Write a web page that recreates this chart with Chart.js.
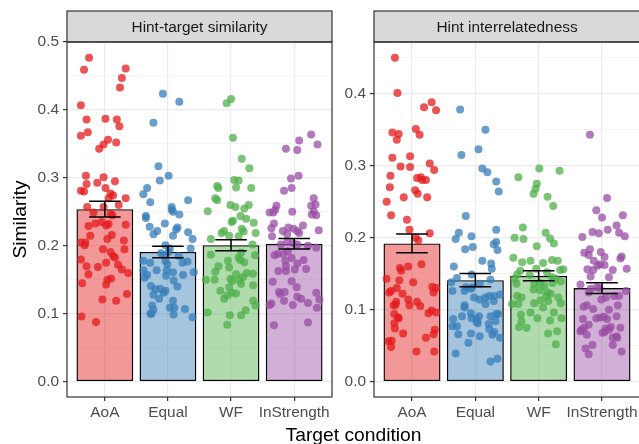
<!DOCTYPE html>
<html>
<head>
<meta charset="utf-8">
<title>Similarity by target condition</title>
<script src="https://cdn.jsdelivr.net/npm/chart.js@4.4.1/dist/chart.umd.min.js"></script>
<style>
    html, body { margin: 0; padding: 0; background: #ffffff; width: 639px; height: 444px; overflow: hidden; }
    canvas.panel { position: absolute; left: 0; top: 0; }
</style>
</head>
<body>
<canvas id="leftPanel" class="panel" width="639" height="460"></canvas>
<canvas id="rightPanel" class="panel" width="660" height="460"></canvas>
<script>
// Categories and facet titles
const categories = ['AoA', 'Equal', 'WF', 'InStrength'];
const panelTitles = ['Hint-target similarity', 'Hint interrelatedness'];
const xTitle = 'Target condition';
const yTitle = 'Similarity';
const palette = ['#E41A1C', '#377EB8', '#4DAF4A', '#984EA3'];

// Tick values
const simMajorTicks = [0, 0.1, 0.2, 0.3, 0.4, 0.5];
const simMinorTicks = [0.05, 0.15, 0.25, 0.35, 0.45];
const relMajorTicks = [0, 0.1, 0.2, 0.3, 0.4];
const relMinorTicks = [0.05, 0.15, 0.25, 0.35, 0.45];

// Bar means and standard errors
const simMeans = [0.254, 0.191, 0.201, 0.203];
const simSE = [0.0115, 0.0084, 0.0081, 0.0078];
const relMeans = [0.192, 0.141, 0.147, 0.130];
const relSE = [0.0130, 0.0093, 0.0069, 0.0074];

// Hint-target similarity: item values and horizontal jitter
const simAoA = [0.477,0.459,0.461,0.447,0.433,0.407,0.386,0.387,0.386,0.376,0.362,0.367,0.356,0.349,0.343,0.352,0.303,0.301,0.291,0.293,0.295,0.281,0.280,0.285,0.277,0.274,0.270,0.270,0.260,0.257,0.257,0.249,0.247,0.245,0.229,0.233,0.235,0.230,0.232,0.231,0.215,0.216,0.210,0.205,0.201,0.205,0.208,0.195,0.191,0.195,0.185,0.183,0.180,0.175,0.170,0.169,0.172,0.165,0.160,0.158,0.152,0.150,0.143,0.145,0.129,0.121,0.119,0.096,0.088];
const simAoAJitter = [-0.25,-0.33,0.33,0.27,0.24,-0.38,-0.29,0.01,0.19,0.23,-0.38,-0.27,0.05,-0.02,-0.09,0.18,-0.30,-0.02,-0.29,-0.12,0.16,-0.38,-0.33,0.01,0.09,0.13,0.33,0.06,0.22,-0.28,-0.02,-0.18,0.09,0.12,-0.26,-0.15,-0.05,0.02,0.06,0.33,-0.23,0.11,0.04,-0.38,-0.32,-0.31,0.30,-0.03,0.09,0.31,0.13,0.16,-0.38,0.02,-0.29,-0.11,0.21,0.27,0.37,-0.26,0.10,0.04,0.02,-0.36,0.35,-0.04,0.18,-0.37,-0.14];
const simEqual = [0.424,0.412,0.381,0.317,0.303,0.296,0.285,0.276,0.264,0.267,0.257,0.253,0.250,0.246,0.244,0.241,0.233,0.228,0.222,0.217,0.227,0.224,0.215,0.220,0.210,0.201,0.196,0.196,0.191,0.189,0.185,0.186,0.178,0.175,0.178,0.173,0.177,0.175,0.164,0.164,0.164,0.161,0.161,0.157,0.153,0.157,0.156,0.149,0.141,0.140,0.136,0.137,0.134,0.131,0.128,0.122,0.119,0.112,0.106,0.109,0.109,0.107,0.100,0.100,0.099,0.095];
const simEqualJitter = [-0.08,0.18,-0.23,-0.15,0.01,-0.13,-0.33,-0.39,-0.28,0.32,0.06,0.06,0.08,0.18,-0.35,-0.35,-0.05,-0.29,-0.17,-0.23,0.15,0.13,0.08,0.32,0.39,-0.04,0.36,0.03,0.01,-0.11,0.17,-0.06,-0.39,-0.28,-0.04,-0.01,0.31,0.23,-0.18,-0.39,-0.02,0.08,0.41,-0.33,-0.37,0.24,-0.03,0.09,-0.27,0.15,-0.20,-0.12,-0.04,-0.07,-0.23,-0.14,0.08,-0.25,-0.23,0.03,0.10,0.27,-0.28,-0.26,0.09,0.39];
const simWF = [0.416,0.410,0.359,0.328,0.314,0.297,0.296,0.288,0.285,0.286,0.285,0.270,0.267,0.260,0.257,0.260,0.255,0.251,0.244,0.240,0.237,0.235,0.234,0.225,0.221,0.222,0.219,0.215,0.219,0.214,0.210,0.202,0.187,0.190,0.186,0.183,0.179,0.176,0.178,0.168,0.170,0.162,0.160,0.159,0.158,0.150,0.150,0.151,0.148,0.150,0.154,0.144,0.142,0.139,0.134,0.131,0.130,0.127,0.122,0.119,0.112,0.105,0.102,0.098,0.098,0.084];
const simWFJitter = [0.00,-0.07,0.03,0.17,0.29,0.05,0.12,-0.22,-0.20,0.08,0.32,-0.25,-0.22,-0.01,0.07,0.28,0.21,-0.37,0.15,0.24,0.03,0.01,0.36,0.17,0.20,-0.11,-0.15,-0.03,0.39,0.12,-0.32,0.34,-0.32,0.16,0.38,0.12,0.15,0.21,-0.05,-0.03,-0.20,-0.25,0.25,0.35,0.08,-0.40,-0.26,-0.01,0.02,0.13,0.19,0.16,0.35,-0.03,-0.17,0.01,0.08,-0.06,-0.11,0.35,0.39,0.23,-0.37,-0.02,0.16,-0.06];
const simInS = [0.364,0.355,0.349,0.343,0.341,0.303,0.299,0.285,0.281,0.270,0.259,0.259,0.261,0.253,0.249,0.249,0.250,0.251,0.246,0.245,0.233,0.226,0.227,0.222,0.225,0.222,0.230,0.223,0.217,0.219,0.214,0.202,0.206,0.204,0.202,0.200,0.197,0.186,0.188,0.188,0.192,0.182,0.178,0.179,0.163,0.170,0.163,0.165,0.174,0.166,0.147,0.148,0.139,0.132,0.129,0.132,0.119,0.125,0.122,0.113,0.116,0.131,0.121,0.109,0.113,0.115,0.083,0.087];
const simInSJitter = [0.27,0.08,0.37,-0.13,0.05,0.07,-0.05,-0.04,-0.16,0.31,-0.28,0.27,0.34,-0.30,-0.39,-0.33,-0.03,0.31,0.28,0.35,-0.32,-0.36,-0.09,-0.18,-0.01,0.05,0.14,0.39,-0.11,0.08,-0.35,-0.21,-0.11,-0.02,0.05,0.22,0.35,-0.31,-0.26,-0.17,-0.10,-0.04,-0.14,0.15,-0.25,-0.13,-0.13,0.01,0.05,0.19,-0.34,-0.04,0.04,-0.24,-0.22,-0.15,-0.16,0.05,0.11,-0.02,0.22,0.35,0.40,0.36,-0.39,-0.36,-0.32,0.22];

// Hint interrelatedness: item values and horizontal jitter
const relAoA = [0.450,0.401,0.381,0.388,0.377,0.351,0.346,0.344,0.343,0.336,0.311,0.313,0.299,0.298,0.303,0.294,0.286,0.283,0.284,0.280,0.280,0.270,0.266,0.261,0.256,0.256,0.250,0.231,0.225,0.211,0.206,0.200,0.196,0.158,0.154,0.160,0.163,0.143,0.141,0.138,0.124,0.126,0.130,0.122,0.132,0.130,0.124,0.114,0.111,0.111,0.107,0.106,0.106,0.105,0.089,0.088,0.094,0.081,0.074,0.095,0.099,0.096,0.067,0.061,0.066,0.072,0.056,0.057,0.048,0.042,0.042];
const relAoAJitter = [-0.27,-0.23,0.19,0.31,0.38,0.06,-0.31,-0.21,0.12,-0.24,-0.31,-0.03,-0.18,-0.03,0.28,0.35,-0.34,0.08,0.14,0.16,0.22,-0.35,0.05,0.09,-0.13,0.24,-0.40,-0.33,-0.08,-0.04,0.28,0.06,0.10,-0.19,-0.17,-0.06,0.15,-0.40,-0.20,0.02,-0.36,-0.33,-0.24,-0.15,0.32,0.38,0.34,-0.06,0.08,-0.25,-0.26,-0.29,-0.04,0.13,-0.22,-0.21,-0.28,-0.28,-0.27,0.26,0.31,0.38,-0.14,0.22,0.34,0.36,-0.37,-0.32,-0.33,0.07,0.35];
const relEqual = [0.378,0.350,0.323,0.315,0.296,0.291,0.278,0.264,0.230,0.207,0.198,0.202,0.211,0.194,0.191,0.183,0.187,0.184,0.168,0.164,0.157,0.160,0.144,0.149,0.138,0.126,0.131,0.131,0.136,0.142,0.126,0.129,0.117,0.114,0.108,0.117,0.119,0.119,0.121,0.112,0.106,0.103,0.095,0.091,0.088,0.087,0.091,0.081,0.083,0.091,0.094,0.094,0.087,0.077,0.077,0.080,0.084,0.073,0.069,0.065,0.066,0.067,0.063,0.061,0.054,0.039,0.028,0.032];
const relEqualJitter = [-0.24,0.16,0.05,-0.22,0.11,0.19,0.33,0.37,-0.15,-0.26,-0.31,-0.06,0.33,0.33,0.29,0.35,-0.04,-0.16,0.11,0.25,0.26,-0.34,-0.29,-0.06,-0.38,-0.36,-0.15,-0.05,0.07,0.24,-0.17,-0.07,-0.02,0.07,0.16,0.16,0.22,0.30,0.39,0.29,-0.17,-0.17,-0.07,-0.21,-0.06,0.02,0.06,0.04,0.02,0.24,0.33,0.36,-0.35,-0.36,-0.29,0.21,0.32,0.22,0.30,0.27,-0.27,-0.07,0.07,0.39,-0.11,-0.31,0.24,0.35];
const relWF = [0.296,0.293,0.284,0.275,0.268,0.261,0.257,0.244,0.214,0.200,0.198,0.207,0.199,0.192,0.188,0.172,0.166,0.168,0.165,0.169,0.168,0.157,0.155,0.156,0.154,0.149,0.143,0.136,0.148,0.152,0.145,0.143,0.136,0.137,0.133,0.137,0.139,0.128,0.127,0.124,0.119,0.117,0.119,0.122,0.117,0.108,0.108,0.109,0.113,0.103,0.112,0.109,0.096,0.093,0.096,0.088,0.085,0.088,0.084,0.076,0.075,0.067,0.070,0.052];
const relWFJitter = [0.01,0.33,-0.32,-0.03,-0.05,-0.08,0.14,0.23,-0.25,-0.38,-0.24,0.11,0.18,0.24,-0.03,-0.40,-0.26,-0.13,0.07,0.21,0.30,-0.04,0.34,0.39,-0.29,-0.34,-0.38,-0.35,-0.14,0.13,0.21,0.27,-0.07,0.02,0.09,0.22,0.35,-0.08,0.02,0.14,-0.34,-0.27,0.12,0.19,0.31,-0.42,-0.32,-0.07,0.03,0.07,0.15,0.35,-0.13,-0.28,0.24,-0.02,0.18,0.36,-0.27,-0.31,-0.19,0.15,0.29,0.27];
const relInS = [0.343,0.255,0.238,0.228,0.231,0.217,0.211,0.208,0.206,0.207,0.202,0.201,0.179,0.184,0.176,0.180,0.173,0.171,0.174,0.168,0.161,0.163,0.162,0.155,0.157,0.156,0.155,0.146,0.145,0.135,0.129,0.131,0.130,0.124,0.117,0.114,0.126,0.119,0.119,0.106,0.104,0.106,0.101,0.089,0.088,0.090,0.100,0.087,0.091,0.087,0.079,0.075,0.072,0.070,0.065,0.068,0.069,0.074,0.072,0.076,0.075,0.061,0.063,0.061,0.051,0.046,0.038,0.051,0.042];
const relInSJitter = [-0.19,0.08,-0.09,0.00,0.33,0.23,0.09,-0.15,-0.05,0.27,0.36,-0.31,-0.28,-0.19,-0.21,-0.02,0.04,0.29,0.31,-0.13,-0.07,-0.03,0.04,0.17,0.39,-0.23,-0.14,-0.18,0.11,-0.34,-0.18,-0.08,-0.04,-0.21,0.06,-0.01,0.38,0.27,0.19,0.25,-0.29,-0.24,-0.14,-0.03,-0.09,0.03,0.11,0.08,0.23,-0.30,-0.21,-0.28,-0.32,-0.34,-0.24,0.01,0.04,0.06,0.11,0.14,0.29,0.17,0.23,0.24,-0.15,-0.26,-0.21,0.17,0.31];

const FONT = "'Liberation Sans', Arial, sans-serif";

Chart.defaults.font.family = FONT;
Chart.defaults.animation = false;

function withAlpha(hex, a) {
    const n = parseInt(hex.slice(1), 16);
    return `rgba(${(n >> 16) & 255}, ${(n >> 8) & 255}, ${n & 255}, ${a})`;
}

// Grey facet strip above the panel + full panel border
const stripPlugin = {
    id: 'strip',
    afterDraw(chart, args, opts) {
        const { ctx, chartArea } = chart;
        ctx.save();
        ctx.fillStyle = '#D9D9D9';
        ctx.fillRect(chartArea.left, 11, chartArea.right - chartArea.left, chartArea.top - 11);
        ctx.strokeStyle = '#333333';
        ctx.lineWidth = 1.2;
        ctx.strokeRect(chartArea.left, 11, chartArea.right - chartArea.left, chartArea.top - 11);
        ctx.strokeRect(chartArea.left, chartArea.top, chartArea.right - chartArea.left, chartArea.bottom - chartArea.top);
        ctx.fillStyle = '#1A1A1A';
        ctx.font = `15.4px ${FONT}`;
        ctx.textAlign = 'center';
        ctx.textBaseline = 'middle';
        ctx.fillText(opts.title, (chartArea.left + chartArea.right) / 2, (11 + chartArea.top) / 2 + 1);
        if (opts.xTitle) {
            ctx.fillStyle = '#000000';
            ctx.font = `19.25px ${FONT}`;
            ctx.textBaseline = 'alphabetic';
            ctx.fillText(opts.xTitle, opts.xTitleX, 441);
        }
        ctx.restore();
    }
};

// Mean +/- SE error bars
const errorBarPlugin = {
    id: 'errorBars',
    afterDatasetsDraw(chart, args, opts) {
        const { ctx } = chart;
        const xs = chart.scales.x, ys = chart.scales.y;
        ctx.save();
        ctx.strokeStyle = '#000000';
        ctx.lineWidth = 1.5;
        opts.means.forEach((m, i) => {
            const xl = xs.getPixelForValue(i - 0.25);
            const xr = xs.getPixelForValue(i + 0.25);
            const xc = xs.getPixelForValue(i);
            const yHi = ys.getPixelForValue(m + opts.se[i]);
            const yLo = ys.getPixelForValue(m - opts.se[i]);
            ctx.beginPath();
            ctx.moveTo(xl, yHi); ctx.lineTo(xr, yHi);
            ctx.moveTo(xc, yHi); ctx.lineTo(xc, yLo);
            ctx.moveTo(xl, yLo); ctx.lineTo(xr, yLo);
            ctx.stroke();
        });
        ctx.restore();
    }
};

function buildPanel(canvasId, cfg) {
    const allTicks = cfg.majorTicks.concat(cfg.minorTicks).sort((a, b) => a - b);
    const isMajor = v => cfg.majorTicks.includes(v);

    const datasets = [{
        type: 'bar',
        data: categories.map((c, i) => ({ x: i, y: cfg.means[i] })),
        backgroundColor: palette.map(c => withAlpha(c, 0.45)),
        borderColor: '#000000',
        borderWidth: 1.4,
        borderSkipped: false,
        barPercentage: 0.9,
        categoryPercentage: 1,
        order: 2
    }];

    cfg.points.forEach((values, i) => {
        datasets.push({
            type: 'scatter',
            data: values.map((v, j) => ({ x: i + cfg.jitter[i][j], y: v })),
            backgroundColor: withAlpha(palette[i], 0.75),
            borderWidth: 0,
            pointRadius: 4,
            order: 1
        });
    });

    return new Chart(document.getElementById(canvasId), {
        type: 'scatter',
        data: { datasets },
        options: {
            responsive: false,
            devicePixelRatio: 1,
            layout: { padding: cfg.padding },
            plugins: {
                legend: { display: false },
                tooltip: { enabled: false },
                strip: { title: cfg.title, xTitle: cfg.xTitle, xTitleX: 353.5 },
                errorBars: { means: cfg.means, se: cfg.se }
            },
            scales: {
                x: {
                    type: 'linear',
                    min: -0.6,
                    max: 3.6,
                    offset: false,
                    afterBuildTicks: scale => { scale.ticks = categories.map((c, i) => ({ value: i })); },
                    afterFit: scale => { scale.height = 47; },
                    ticks: {
                        autoSkip: false,
                        maxRotation: 0,
                        padding: 3,
                        color: '#4D4D4D',
                        font: { size: 15.4 },
                        callback: v => categories[v]
                    },
                    grid: {
                        offset: false,
                        color: '#EBEBEB',
                        lineWidth: 1.2,
                        tickColor: '#333333',
                        tickLength: 4
                    },
                    border: { display: false }
                },
                y: {
                    type: 'linear',
                    min: cfg.yMin,
                    max: cfg.yMax,
                    afterBuildTicks: scale => { scale.ticks = allTicks.map(v => ({ value: v })); },
                    afterFit: scale => { scale.width = cfg.yAxisWidth; },
                    ticks: {
                        autoSkip: false,
                        padding: 4,
                        color: '#4D4D4D',
                        font: { size: 15.4 },
                        callback: v => isMajor(v) ? v.toFixed(1) : ''
                    },
                    grid: {
                        color: ctx => isMajor(ctx.tick.value) ? '#EBEBEB' : '#F3F3F3',
                        lineWidth: ctx => isMajor(ctx.tick.value) ? 1.2 : 0.8,
                        tickColor: ctx => isMajor(ctx.tick.value) ? '#333333' : 'rgba(0,0,0,0)',
                        tickLength: 4
                    },
                    border: { display: false },
                    title: {
                        display: !!cfg.yTitle,
                        text: cfg.yTitle,
                        color: '#000000',
                        font: { size: 19.25 },
                        padding: { top: 9, bottom: 0 }
                    }
                }
            }
        },
        plugins: [stripPlugin, errorBarPlugin]
    });
}

buildPanel('leftPanel', {
    title: panelTitles[0],
    xTitle: xTitle,
    yTitle: yTitle,
    means: simMeans,
    se: simSE,
    points: [simAoA, simEqual, simWF, simInS],
    jitter: [simAoAJitter, simEqualJitter, simWFJitter, simInSJitter],
    majorTicks: simMajorTicks,
    minorTicks: simMinorTicks,
    yMin: -0.0225,
    yMax: 0.5,
    yAxisWidth: 67,
    padding: { left: 0, top: 42, right: 307, bottom: 16 }
});

buildPanel('rightPanel', {
    title: panelTitles[1],
    xTitle: null,
    yTitle: null,
    means: relMeans,
    se: relSE,
    points: [relAoA, relEqual, relWF, relInS],
    jitter: [relAoAJitter, relEqualJitter, relWFJitter, relInSJitter],
    majorTicks: relMajorTicks,
    minorTicks: relMinorTicks,
    yMin: -0.0213,
    yMax: 0.4718,
    yAxisWidth: 40,
    padding: { left: 334, top: 42, right: 20, bottom: 16 }
});
</script>
</body>
</html>
